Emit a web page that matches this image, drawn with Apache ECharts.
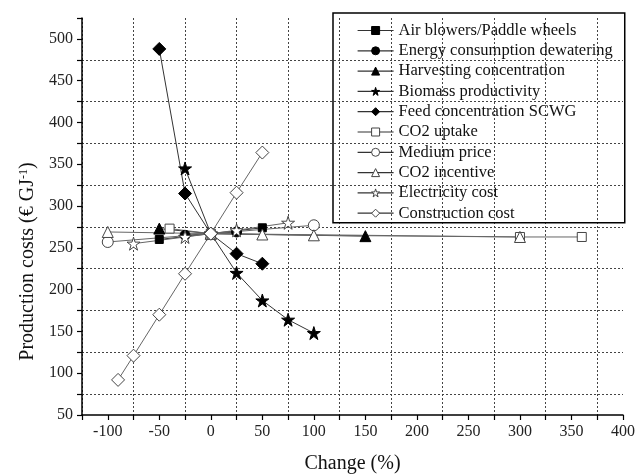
<!DOCTYPE html>
<html>
<head>
<meta charset="utf-8">
<script src="https://cdn.jsdelivr.net/npm/echarts@6/dist/echarts.min.js"></script>
<style>
  html, body { margin: 0; padding: 0; background: #fff; }
  #chart { width: 638px; height: 474px; }
</style>
</head>
<body>
<div id="chart"></div>
<script>
(function () {
  var myChart = echarts.init(document.getElementById("chart"));

  // series names (legend order)
  const seriesNames = [
    "Air blowers/Paddle wheels",
    "Energy consumption dewatering",
    "Harvesting concentration",
    "Biomass productivity",
    "Feed concentration SCWG",
    "CO2 uptake",
    "Medium price",
    "CO2 incentive",
    "Electricity cost",
    "Construction cost",
  ];

  // change (%) and production costs
  const airX = [-50, 0, 50];
  const airY = [260, 267, 274];
  const energyX = [-25, 0, 25];
  const energyY = [265, 267, 269];
  const harvestX = [-50, 0, 150];
  const harvestY = [273, 267, 264];
  const biomassX = [-25, 0, 25, 50, 75, 100];
  const biomassY = [345, 267, 220, 187, 164, 148];
  const feedX = [-50, -25, 0, 25, 50];
  const feedY = [488, 315, 267, 243, 231];
  const uptakeX = [-40, 0, 300, 360];
  const uptakeY = [273, 267, 263, 263];
  const mediumX = [-100, 0, 100];
  const mediumY = [257, 267, 277];
  const incentiveX = [-100, 0, 50, 100, 300];
  const incentiveY = [269, 267, 266, 265, 263];
  const electricityX = [-75, -25, 0, 25, 75];
  const electricityY = [255, 263, 267, 271, 280];
  const constructionX = [-90, -75, -50, -25, 0, 25, 50];
  const constructionY = [92, 121, 170, 219, 267, 316, 364];

  const xs = [airX, energyX, harvestX, biomassX, feedX, uptakeX, mediumX, incentiveX, electricityX, constructionX];
  const ys = [airY, energyY, harvestY, biomassY, feedY, uptakeY, mediumY, incentiveY, electricityY, constructionY];

  const star = "path://M50 0L61.2 34.5L97.6 34.5L68.2 55.9L79.4 90.5L50 69.1L20.6 90.5L31.8 55.9L2.4 34.5L38.8 34.5Z";
  const symbols = ["rect", "circle", "triangle", star, "diamond", "rect", "circle", "triangle", star, "diamond"];
  const sizes = [8, 10, 11, 13, 13, 9, 11, 11, 13, 13];
  const filled = [true, true, true, true, true, false, false, false, false, false];

  const font = "Liberation Serif";
  const gridColor = "#444";

  function markerStyle(i) {
    return {
      color: filled[i] ? "#000" : "#fff",
      borderColor: filled[i] ? "#000" : "#444",
      borderWidth: 1,
    };
  }

  const series = seriesNames.map(function (name, i) {
    return {
      name: name,
      type: "line",
      data: xs[i].map(function (x, j) { return [x, ys[i][j]]; }),
      symbol: symbols[i],
      symbolSize: sizes[i],
      showAllSymbol: true,
      lineStyle: { color: filled[i] ? "#333" : "#666", width: 1 },
      itemStyle: markerStyle(i),
      emphasis: { disabled: true },
      animation: false,
    };
  });

  const legendData = seriesNames.map(function (name, i) {
    return {
      name: name,
      itemStyle: markerStyle(i),
      lineStyle: { color: "#333", width: 1.2 },
    };
  });

  const option = {
    backgroundColor: "#fff",
    animation: false,
    grid: { left: 82, right: 15, top: 18, bottom: 59, outerBoundsMode: "none" },
    legend: {
      orient: "vertical",
      left: 333,
      top: 13,
      padding: [9, 12, 1, 24],
      itemWidth: 36,
      itemHeight: 10,
      itemGap: 3.3,
      borderColor: "#000",
      borderWidth: 1.5,
      borderRadius: 0,
      data: legendData,
      textStyle: { fontFamily: font, fontSize: 16.5, color: "#111", lineHeight: 16 },
    },
    xAxis: {
      type: "value",
      min: -125,
      max: 400,
      interval: 25,
      name: "Change (%)",
      nameLocation: "middle",
      nameGap: 39,
      nameTextStyle: { fontFamily: font, fontSize: 20, color: "#111" },
      axisLine: { show: true, onZero: false, lineStyle: { color: "#000", width: 1.5 } },
      axisTick: { show: true, length: 5, lineStyle: { color: "#000", width: 1.2 } },
      axisLabel: {
        fontFamily: font,
        fontSize: 16,
        color: "#222",
        margin: 9,
        formatter: function (v) { return v % 50 === 0 ? String(v) : ""; },
      },
      splitLine: {
        show: true,
        showMinLine: true,
        showMaxLine: true,
        lineStyle: { color: [gridColor, "rgba(0,0,0,0)"], type: [2, 2], width: 1 },
      },
    },
    yAxis: {
      type: "value",
      min: 50,
      max: 525,
      interval: 25,
      name: "Production costs (€ GJ{s|-1})",
      nameLocation: "middle",
      nameGap: 38,
      nameTextStyle: {
        fontFamily: font,
        fontSize: 20,
        color: "#111",
        padding: [0, 90, 0, 0],
        rich: { s: { fontFamily: font, fontSize: 12, color: "#111", verticalAlign: "top", padding: [0, 0, 9, 0] } },
      },
      axisLine: { show: true, onZero: false, lineStyle: { color: "#000", width: 1.5 } },
      axisTick: { show: true, length: 5, lineStyle: { color: "#000", width: 1.2 } },
      axisLabel: {
        fontFamily: font,
        fontSize: 16,
        color: "#222",
        margin: 9,
        formatter: function (v) { return v % 50 === 0 ? String(v) : ""; },
      },
      splitLine: {
        show: true,
        showMinLine: true,
        showMaxLine: false,
        lineStyle: { color: ["rgba(0,0,0,0)", gridColor], type: [2, 2], width: 1 },
      },
    },
    series: series,
  };

  myChart.setOption(option, true);

  window.onresize = function () {
    myChart.resize();
  };
})();
</script>
</body>
</html>
